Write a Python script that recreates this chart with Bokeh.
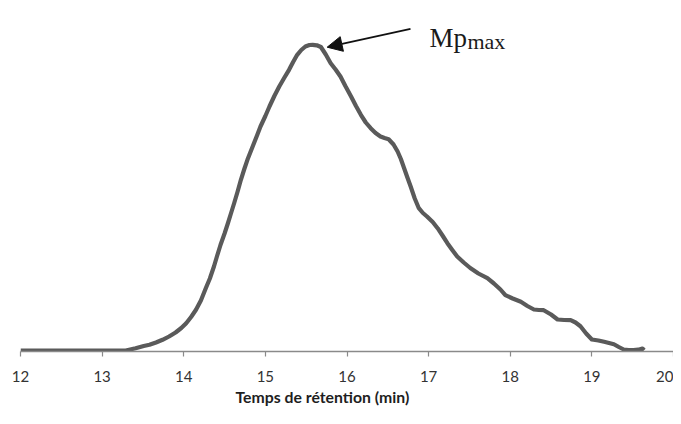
from bokeh.plotting import figure
from bokeh.models import Range1d, FixedTicker, Label, Arrow, NormalHead, ColumnDataSource, Title
from bokeh.embed import file_html
from bokeh.resources import INLINE

# Retention time (min) and detector response (arbitrary units)
time_min = [12.00, 13.29, 13.41, 13.51, 13.58, 13.66, 13.74, 13.82, 13.90, 13.97,
            14.03, 14.09, 14.15, 14.21, 14.27, 14.32, 14.37, 14.41, 14.45, 14.50,
            14.54, 14.58, 14.62, 14.66, 14.70, 14.74, 14.78, 14.82, 14.86, 14.90,
            14.94, 15.00, 15.05, 15.11, 15.17, 15.23, 15.29, 15.34, 15.39, 15.44,
            15.49, 15.54, 15.58, 15.63, 15.68, 15.74, 15.80, 15.86, 15.92, 15.98,
            16.05, 16.11, 16.17, 16.23, 16.29, 16.35, 16.41, 16.46, 16.51, 16.57,
            16.62, 16.66, 16.70, 16.74, 16.78, 16.83, 16.88, 16.93, 16.98, 17.05,
            17.11, 17.17, 17.23, 17.29, 17.35, 17.43, 17.51, 17.61, 17.72, 17.80,
            17.88, 17.94, 18.03, 18.13, 18.21, 18.29, 18.35, 18.41, 18.50, 18.58,
            18.66, 18.74, 18.80, 18.86, 18.93, 19.00, 19.08, 19.15, 19.21, 19.27,
            19.33, 19.39, 19.45, 19.51, 19.57, 19.62, 19.64]
signal = [0.0, 0.0, 2.3, 4.5, 5.7, 8.0, 10.7, 14.0, 18.0, 22.5,
          27.3, 33.5, 40.7, 50.0, 62.3, 72.0, 84.0, 95.0, 105.5, 117.0,
          127.0, 137.5, 148.0, 159.0, 170.7, 181.0, 190.7, 199.0, 207.3, 215.5,
          224.0, 234.5, 244.0, 254.5, 264.0, 272.5, 280.7, 288.5, 295.7, 300.5,
          304.0, 305.5, 305.7, 305.2, 303.5, 296.0, 287.3, 281.0, 274.0, 264.5,
          254.0, 244.5, 235.7, 228.0, 222.3, 217.5, 214.0, 212.5, 211.3, 206.0,
          199.0, 191.5, 182.3, 173.0, 164.0, 152.0, 142.3, 137.5, 134.0, 128.5,
          122.3, 115.0, 107.3, 100.5, 94.0, 88.0, 82.5, 77.0, 72.3, 67.0,
          61.0, 55.3, 52.0, 48.7, 44.5, 41.0, 40.5, 40.3, 36.0, 31.0,
          30.5, 30.3, 28.0, 24.3, 17.0, 11.0, 10.0, 8.7, 7.5, 6.3,
          3.5, 1.0, 0.3, 0.3, 0.8, 2.0, 0.3]
x_ticks = [12, 13, 14, 15, 16, 17, 18, 19, 20]
x_title = "Temps de rétention (min)"

p = figure(width=673, height=408, output_backend="svg", toolbar_location=None,
           x_range=Range1d(12, 20), y_range=Range1d(-1, 350),
           min_border_left=20, min_border_right=0, min_border_top=0, min_border_bottom=57)
p.outline_line_color = None
p.xgrid.visible = False
p.ygrid.visible = False
p.yaxis.visible = False
p.background_fill_color = "white"

src = ColumnDataSource(dict(t=time_min, s=signal))
p.line("t", "s", source=src, line_color="#5a5a5a", line_width=4.2, line_join="round")

ax = p.xaxis[0]
ax.ticker = FixedTicker(ticks=x_ticks)
ax.axis_line_color = "#8a8a8a"
ax.axis_line_width = 1.4
ax.major_tick_line_color = "#8a8a8a"
ax.major_tick_line_width = 1.2
ax.major_tick_in = 0
ax.major_tick_out = 5
ax.minor_tick_line_color = None
ax.major_label_text_font = "Lato"
ax.major_label_text_font_size = "15px"
ax.major_label_text_color = "#333333"
ax.major_label_standoff = 14

p.add_layout(Title(text=x_title, align="left", offset=215, standoff=1,
                   text_font="Lato", text_font_style="bold", text_font_size="15.8px",
                   text_color="#1e1e1e"), "below")

p.add_layout(Arrow(x_start=16.778, y_start=321.7, x_end=15.757, y_end=303.3,
                   line_color="#111111", line_width=1.8,
                   end=NormalHead(size=15, fill_color="#111111", line_color="#111111")))
p.add_layout(Label(x=17.01, y=312.3, text="Mp", text_align="left", text_baseline="alphabetic",
                   text_font="Liberation Serif", text_font_size="27px", text_color="#1a1a1a"))
p.add_layout(Label(x=17.476, y=309.5, text="max", text_align="left", text_baseline="alphabetic",
                   text_font="Liberation Serif", text_font_size="22px", text_color="#1a1a1a"))

open("out.html", "w").write(file_html(p, INLINE))
